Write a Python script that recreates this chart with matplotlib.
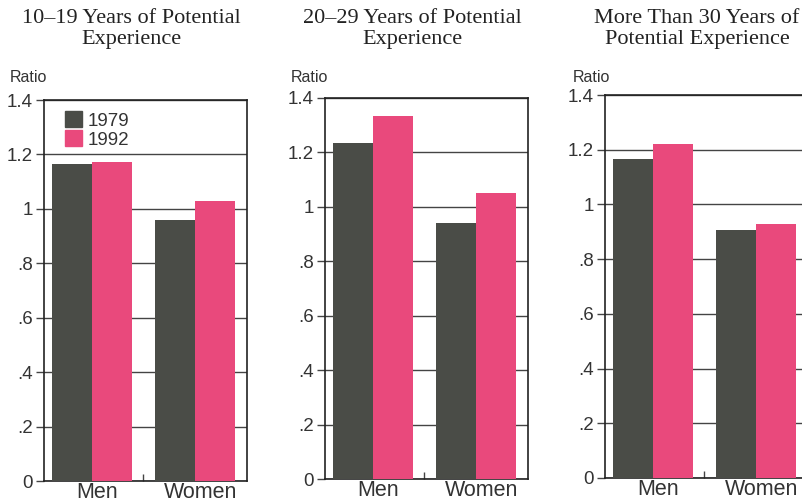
import numpy as np
import matplotlib.pyplot as plt
from matplotlib.patches import Patch

# data
titles = ['10\u201319 Years of Potential\nExperience',
          '20\u201329 Years of Potential\nExperience',
          'More Than 30 Years of\nPotential Experience']
groups = ['Men', 'Women']
years = ['1979', '1992']
vals_1979 = [[1.165, 0.96], [1.235, 0.94], [1.165, 0.905]]
vals_1992 = [[1.172, 1.03], [1.335, 1.05], [1.22, 0.93]]
yticks = [0, 0.2, 0.4, 0.6, 0.8, 1.0, 1.2, 1.4]
ytick_labels = ['0', '.2', '.4', '.6', '.8', '1', '1.2', '1.4']

c_dark = '#4a4c47'
c_pink = '#e9497c'
sans = 'Liberation Sans'
serif = 'Liberation Serif'

W, H = 803, 504
fig = plt.figure(figsize=(W / 100, H / 100), dpi=100)

# axes boxes in pixels: left, bottom(y of zero line), top(y of 1.4)
boxes = [(44, 481, 100), (325, 479, 98), (605, 478, 95)]
title_x = [131, 412, 697]
ratio_x = [10, 291, 573]

x = np.arange(len(groups))
w = 0.385

for i, (l, b, t) in enumerate(boxes):
    ax = fig.add_axes([l / W, (H - b) / H, 203 / W, (b - t) / H])
    ax.bar(x - w / 2, vals_1979[i], w, color=c_dark, zorder=3, linewidth=0)
    ax.bar(x + w / 2, vals_1992[i], w, color=c_pink, zorder=3, linewidth=0)
    ax.set_ylim(0, 1.4)
    ax.set_xlim(-0.46, 1.5)
    ax.set_yticks(yticks)
    ax.set_yticklabels(ytick_labels, fontfamily=sans, fontsize=13.5, color='#333333')
    ax.tick_params(axis='y', length=6, width=1, color='#444444', pad=2)
    ax.set_xticks(x + 0.05)
    ax.set_xticklabels(groups, fontfamily=sans, fontsize=15.5, color='#333333')
    ax.tick_params(axis='x', length=0, pad=1)
    ax.set_xticks([0.5], minor=True)
    ax.tick_params(axis='x', which='minor', direction='in', length=5, width=1, color='#444444')
    ax.yaxis.grid(True, color='#444444', linewidth=1, zorder=0)
    ax.set_axisbelow(True)
    for s in ax.spines.values():
        s.set_color('#222222')
        s.set_linewidth(1.2)
    fig.text(title_x[i] / W, 1 - 9 / H, titles[i], ha='center', va='top',
             fontfamily=serif, fontsize=16, color='#222222', linespacing=1.15)
    fig.text(ratio_x[i] / W, 1 - 82 / H, 'Ratio', ha='left', va='baseline',
             fontfamily=sans, fontsize=11.5, color='#333333')

    if i == 0:
        handles = [Patch(color=c_dark), Patch(color=c_pink)]
        leg = ax.legend(handles, years, loc='upper left', bbox_to_anchor=(0.05, 1.0),
                        frameon=False, handlelength=0.9, handleheight=0.9,
                        handletextpad=0.3, labelspacing=0.05, borderaxespad=0.2,
                        prop={'family': sans, 'size': 13.5})
        for txt in leg.get_texts():
            txt.set_color('#333333')

fig.savefig('out.png', dpi=100)
